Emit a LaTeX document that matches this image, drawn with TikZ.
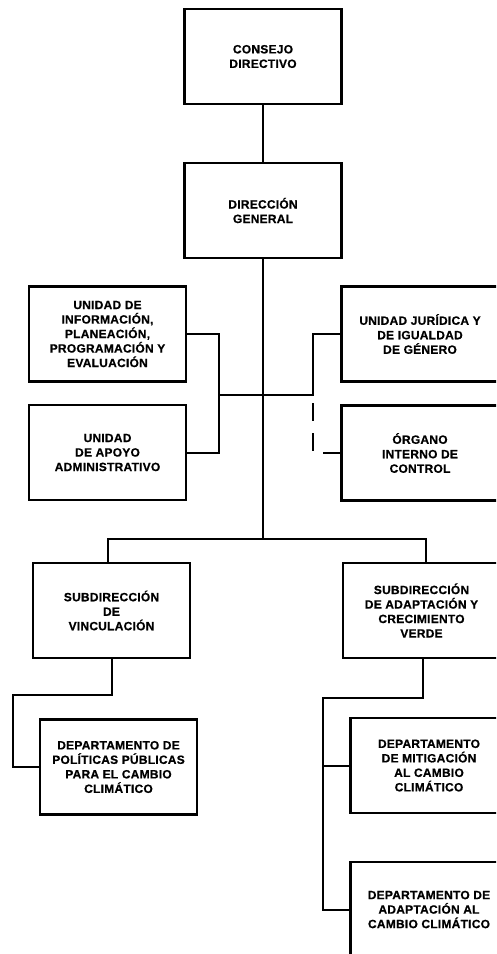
\documentclass[tikz,border=0pt]{standalone}
\usepackage{fontspec}
\newfontfamily\labf{Liberation Sans Bold}[LetterSpace=2,FakeBold=0.6]
\begin{document}
\begin{tikzpicture}[x=1pt,y=-1pt,
  orgbox/.style={draw,line width=2.2pt,minimum width=157pt,minimum height=95pt,
    align=center,inner sep=2pt,font={\labf\fontsize{12}{14.5}\selectfont}},
  link/.style={line width=2pt},
  dashlink/.style={line width=2pt,dash pattern=on 18pt off 12pt,dash phase=22pt}]
\useasboundingbox (0,0) rectangle (496,954);
\clip (0,0) rectangle (496,954);
\node[orgbox] (cd) at (263,56.5) {CONSEJO\\DIRECTIVO};
\node[orgbox] (dg) at (263,210.5) {DIRECCIÓN\\GENERAL};
\node[orgbox] (uipe) at (107.5,334) {UNIDAD DE\\INFORMACIÓN,\\PLANEACIÓN,\\PROGRAMACIÓN Y\\EVALUACIÓN};
\node[orgbox] (uaa) at (107.5,452.5) {UNIDAD\\DE APOYO\\ADMINISTRATIVO};
\node[orgbox] (ujig) at (420,334) {UNIDAD JURÍDICA Y\\DE IGUALDAD\\DE GÉNERO};
\node[orgbox] (oic) at (420,453) {ÓRGANO\\INTERNO DE\\CONTROL};
\node[orgbox] (sv) at (111.5,610.5) {SUBDIRECCIÓN\\DE\\VINCULACIÓN};
\node[orgbox] (dpp) at (118.5,767) {DEPARTAMENTO DE\\POLÍTICAS PÚBLICAS\\PARA EL CAMBIO\\CLIMÁTICO};
\node[orgbox] (sa) at (421.5,610.5) {SUBDIRECCIÓN\\DE ADAPTACIÓN Y\\CRECIMIENTO\\VERDE};
\node[orgbox] (dm) at (429,765.5) {DEPARTAMENTO\\DE MITIGACIÓN\\AL CAMBIO\\CLIMÁTICO};
\node[orgbox] (da) at (429,909.5) {DEPARTAMENTO DE\\ADAPTACIÓN AL\\CAMBIO CLIMÁTICO};
% junction coordinates
\coordinate (j1) at (263,395);
\coordinate (j2) at (263,539);
\coordinate (jl) at (219,395);
\coordinate (jr) at (313,395);
\coordinate (jsv) at (108,539);
\coordinate (jsa) at (426,539);
\draw[link] (cd.south) -- (dg.north);
\draw[link] (dg.south) -- (j2);
\draw[link] (uipe.east) -- (jl |- uipe.east) -- (jl |- uaa.east) -- (uaa.east);
\draw[link] (jl) -- (j1) -- (jr) -- (jr |- ujig.west) -- (ujig.west);
\draw[dashlink] (jr) -- (jr |- oic.west) -- (oic.west);
\draw[link] (jsv |- sv.north) -- (jsv) -- (jsa) -- (jsa |- sa.north);
\coordinate (bl) at (112,695);
\coordinate (bll) at (13,695);
\draw[link] (bl |- sv.south) -- (bl) -- (bll) -- (bll |- dpp.west) -- (dpp.west);
\coordinate (br) at (423,698);
\coordinate (brl) at (323,698);
\draw[link] (br |- sa.south) -- (br) -- (brl) -- (brl |- da.west) -- (da.west);
\draw[link] (brl |- dm.west) -- (dm.west);
\end{tikzpicture}
\end{document}
